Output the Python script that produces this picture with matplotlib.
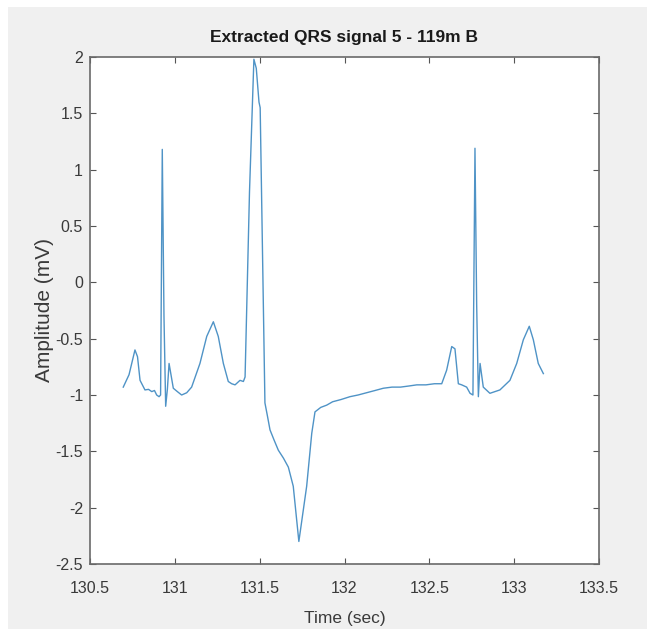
import matplotlib
matplotlib.use('agg')
import matplotlib.pyplot as plt
from matplotlib.patches import Rectangle

# time (sec) and amplitude (mV)
time = [130.696, 130.730, 130.765, 130.780, 130.795, 130.824, 130.845, 130.864, 130.880,
        130.893, 130.907, 130.916, 130.926, 130.936, 130.946, 130.956, 130.966, 130.991,
        131.015, 131.040, 131.070, 131.099, 131.148, 131.188, 131.227, 131.256, 131.286,
        131.315, 131.335, 131.355, 131.384, 131.404, 131.414, 131.440, 131.466, 131.480,
        131.496, 131.503, 131.531, 131.545, 131.561, 131.585, 131.610, 131.640, 131.669,
        131.698, 131.731, 131.777, 131.807, 131.826, 131.860, 131.895, 131.930, 131.980,
        132.032, 132.080, 132.130, 132.180, 132.229, 132.280, 132.330, 132.380, 132.426,
        132.480, 132.530, 132.573, 132.602, 132.632, 132.651, 132.671, 132.691, 132.720,
        132.740, 132.757, 132.769, 132.779, 132.789, 132.799, 132.818, 132.857, 132.916,
        132.975, 133.015, 133.054, 133.089, 133.113, 133.142, 133.172]
amplitude = [-0.93, -0.82, -0.60, -0.66, -0.87, -0.955, -0.95, -0.97, -0.96,
             -1.00, -1.015, -1.00, 1.18, -0.30, -1.10, -0.95, -0.72, -0.94,
             -0.97, -1.00, -0.98, -0.93, -0.72, -0.48, -0.35, -0.48, -0.72,
             -0.88, -0.90, -0.91, -0.87, -0.88, -0.84, 0.80, 1.98, 1.90,
             1.60, 1.55, -1.07, -1.18, -1.31, -1.40, -1.49, -1.56, -1.64,
             -1.81, -2.30, -1.81, -1.34, -1.15, -1.11, -1.09, -1.06, -1.04,
             -1.015, -1.00, -0.98, -0.96, -0.94, -0.93, -0.93, -0.92, -0.91,
             -0.91, -0.90, -0.90, -0.78, -0.57, -0.59, -0.90, -0.91, -0.93,
             -0.985, -1.00, 1.19, -0.20, -1.015, -0.72, -0.93, -0.985, -0.955,
             -0.87, -0.72, -0.51, -0.39, -0.51, -0.72, -0.81]

xticks = [130.5, 131, 131.5, 132, 132.5, 133, 133.5]
xticklabels = ['130.5', '131', '131.5', '132', '132.5', '133', '133.5']
yticks = [-2.5, -2, -1.5, -1, -0.5, 0, 0.5, 1, 1.5, 2]
yticklabels = ['-2.5', '-2', '-1.5', '-1', '-0.5', '0', '0.5', '1', '1.5', '2']

plt.rcParams['font.family'] = ['Liberation Sans', 'DejaVu Sans']

fig = plt.figure(figsize=(6.47, 6.29), dpi=100)
fig.patch.set_facecolor('white')
# matlab grey window, thin white strip left and top
fig.patches.append(Rectangle((8 / 647, 0), 1, 1 - 7 / 629, transform=fig.transFigure,
                             facecolor='#f0f0f0', edgecolor='none', zorder=-10))

ax = fig.add_axes([90 / 647, 1 - 564 / 629, 509 / 647, 507 / 629])
ax.set_facecolor('white')
ax.plot(time, amplitude, color='#4f93c6', linewidth=1.0)

ax.set_xlim(130.5, 133.5)
ax.set_ylim(-2.5, 2)
ax.set_xticks(xticks)
ax.set_xticklabels(xticklabels)
ax.set_yticks(yticks)
ax.set_yticklabels(yticklabels)
ax.tick_params(direction='in', length=4, width=0.8, colors='#555555',
               labelcolor='#3a3a3a', labelsize=11.5, top=True, right=True)
ax.tick_params(axis='x', pad=12)
ax.tick_params(axis='y', pad=5)
for s in ax.spines.values():
    s.set_color('#6a6a6a')
    s.set_linewidth(1.2)

ax.set_title('Extracted QRS signal 5 - 119m B', fontsize=12.5, fontweight='bold',
             color='#1a1a1a', pad=11)
ax.set_xlabel('Time (sec)', fontsize=12.5, color='#3a3a3a', labelpad=11)
ax.set_ylabel('Amplitude (mV)', fontsize=15, color='#3a3a3a', labelpad=1)

plt.savefig('out.png', dpi=100)
plt.close()
